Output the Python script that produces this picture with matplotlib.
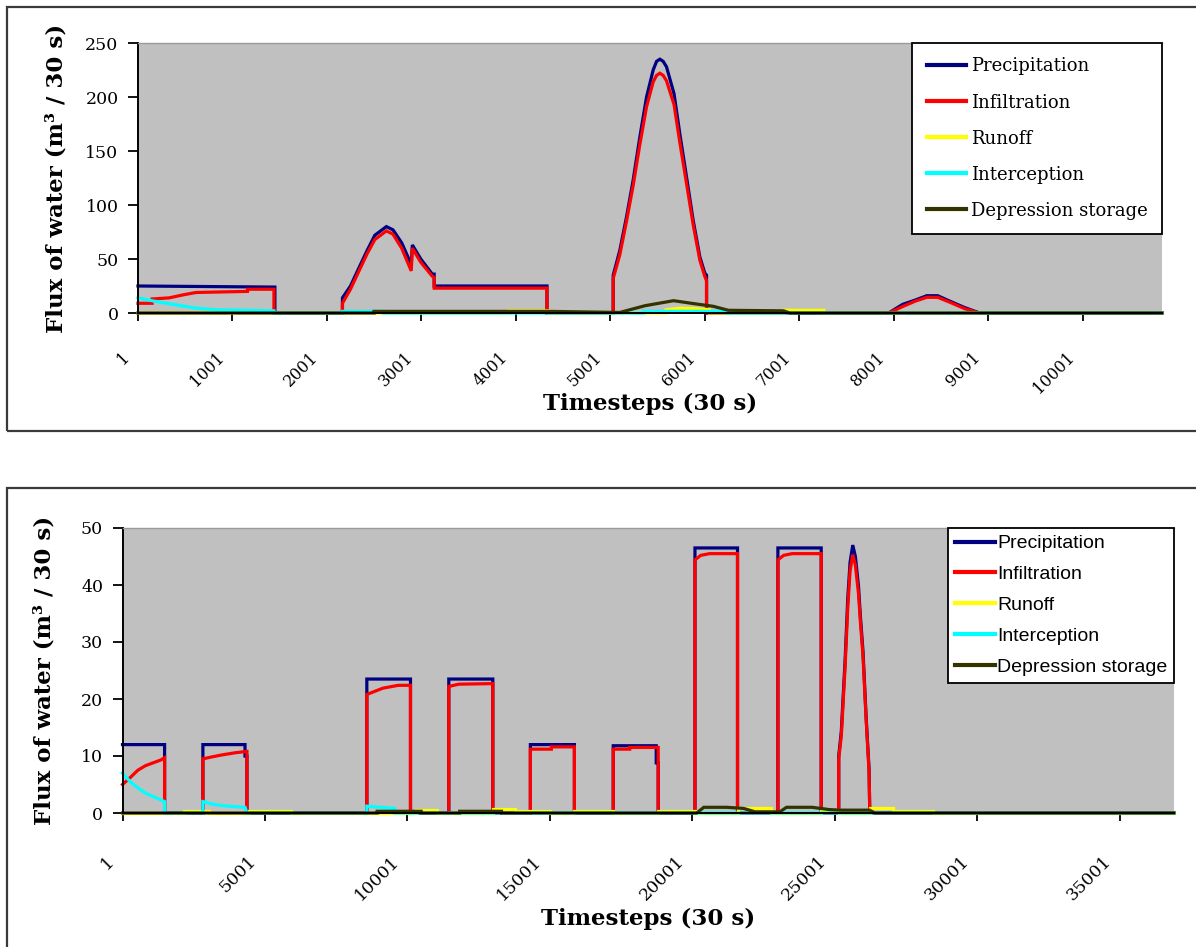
import matplotlib
matplotlib.use("Agg")
import matplotlib.pyplot as plt
import matplotlib.transforms as mtransforms
from matplotlib.patches import Rectangle

# ---------------- data: top panel (timesteps 1..10840) ----------------
top_xmax = 10840
top_xticks = [1, 1001, 2001, 3001, 4001, 5001, 6001, 7001, 8001, 9001, 10001]
top_yticks = [0, 50, 100, 150, 200, 250]

top_t_precip = [1, 1450, 1450, 2165, 2165, 2250, 2346, 2427, 2508, 2630, 2700, 2792, 2893, 2905,
                2994, 3116, 3136, 3136, 4330, 4330, 5031, 5031, 5101, 5172, 5242, 5313, 5384,
                5454, 5490, 5525, 5560, 5595, 5675, 5736, 5807, 5877, 5948, 6000, 6019, 6019,
                7947, 8095, 8229, 8350, 8466, 8593, 8752, 8910, 10840]
top_v_precip = [25, 24, 0, 0, 14, 25, 43, 58, 72, 80, 77, 65, 45, 63,
                50, 36, 36, 25, 25, 0, 0, 35, 58, 89, 123, 163, 200,
                225, 233, 235, 233, 228, 203, 166, 126, 86, 52, 37, 35, 0,
                0, 8, 12, 16, 16, 11, 5, 0, 0]

top_t_infil = [1, 150, 150, 330, 490, 615, 1160, 1160, 1440, 1440, 2165, 2165, 2250, 2346, 2427,
               2508, 2630, 2700, 2792, 2893, 2905, 2994, 3116, 3136, 3136, 4330, 4330, 5031, 5031,
               5101, 5172, 5242, 5313, 5384, 5454, 5490, 5525, 5560, 5595, 5675, 5736, 5807, 5877,
               5948, 6000, 6019, 6019, 7947, 8095, 8229, 8350, 8466, 8593, 8752, 8910, 10840]
top_v_infil = [9, 9, 13, 14, 17, 19, 20, 22, 22, 0, 0, 9, 22, 40, 55,
               68, 76, 73, 60, 39, 60, 47, 34, 33, 23, 23, 0, 0, 32,
               54, 85, 118, 156, 191, 214, 220, 222, 220, 215, 193, 158, 120, 82,
               49, 34, 30, 0, 0, 6, 11, 14.5, 14.5, 10, 4, 0, 0]

top_t_runoff = [1, 3925, 3925, 4350, 4350, 5590, 5590, 5750, 5900, 6050, 6050, 6835, 6835, 7260, 7260, 10840]
top_v_runoff = [0, 0, 2, 2, 0, 0, 3, 4.5, 4, 3, 0, 0, 2.5, 2.5, 0, 0]

top_t_interc = [1, 170, 370, 615, 820, 1440, 1440, 2165, 2165, 2600, 2600, 5350, 5350, 6235, 6235, 10840]
top_v_interc = [14, 11, 8, 4.5, 3, 2, 0, 0, 1.5, 1.5, 0, 0, 1.5, 1.5, 0, 0]

top_t_depr = [1, 2500, 2500, 4350, 5100, 5370, 5670, 5890, 6090, 6250, 6835, 6900, 10840]
top_v_depr = [0, 0, 1.5, 1.5, 0.5, 6.8, 11.4, 8.6, 6.2, 2.5, 2, 0, 0]

# ---------------- data: bottom panel (timesteps 1..36900) ----------------
bot_xmax = 36900
bot_xticks = [1, 5001, 10001, 15001, 20001, 25001, 30001, 35001]
bot_yticks = [0, 10, 20, 30, 40, 50]

bot_t_precip = [1, 1478, 1478, 2822, 2822, 4300, 4300, 4368, 4368, 8575, 8575, 10107, 10107,
                11451, 11451, 12996, 12996, 14314, 14314, 15859, 15859, 17222, 17222, 18730,
                18730, 18800, 18800, 20090, 20090, 21583, 21583, 23000, 23000, 24520, 24520,
                25134, 25134, 25225, 25291, 25357, 25452, 25533, 25627, 25719, 25828, 25895,
                25986, 26095, 26200, 26224, 36900]
bot_v_precip = [12, 12, 0, 0, 12, 12, 10, 10, 0, 0, 23.5, 23.5, 0,
                0, 23.5, 23.5, 0, 0, 12, 12, 0, 0, 11.8, 11.8,
                8.8, 8.8, 0, 0, 46.5, 46.5, 0, 0, 46.5, 46.5, 0,
                0, 10, 14.3, 20.5, 26.6, 37.7, 44, 47, 45, 39.8, 34.5,
                28.4, 17, 7.6, 0, 0]

bot_t_infil = [1, 269, 538, 806, 1075, 1344, 1478, 1478, 2822, 2822, 3100, 3500, 4000, 4368, 4368,
               8575, 8575, 9139, 9677, 10107, 10107, 11451, 11451, 11800, 12996, 12996,
               14314, 14314, 15050, 15050, 15859, 15859, 17222, 17222, 17800, 17800, 18800, 18800,
               20090, 20090, 20290, 20600, 21583, 21583, 23000, 23000, 23200, 23500, 24520, 24520,
               25134, 25134, 25225, 25291, 25357, 25452, 25533, 25627, 25719, 25828, 25895,
               25986, 26095, 26200, 26224, 36900]
bot_v_infil = [5, 6.2, 7.5, 8.3, 8.8, 9.3, 9.7, 0, 0, 9.5, 9.8, 10.2, 10.6, 10.8, 0,
               0, 20.8, 21.9, 22.4, 22.4, 0, 0, 22.2, 22.6, 22.7, 0,
               0, 11.2, 11.2, 11.6, 11.6, 0, 0, 11.2, 11.2, 11.5, 11.5, 0,
               0, 44.4, 45.2, 45.5, 45.5, 0, 0, 44.4, 45.2, 45.5, 45.5, 0,
               0, 9.5, 13.5, 19.5, 25.5, 36, 42.5, 45.3, 43.5, 38.5, 33.5,
               27.5, 16.5, 7.2, 0, 0]

bot_t_runoff = [1, 2150, 2150, 3025, 3025, 4435, 4435, 5914, 5914, 10300, 10300, 11020, 11020,
                13000, 13000, 13780, 13780, 15000, 15000, 15859, 15859, 17222, 17222, 18800,
                18800, 20090, 20090, 21583, 21583, 22750, 22750, 24520, 24520, 25134, 25134,
                26224, 26224, 27030, 27030, 28430, 28430, 36900]
bot_v_runoff = [0, 0, 0.3, 0.3, 0, 0, 0.3, 0.3, 0, 0, 0.6, 0.6, 0,
                0, 0.7, 0.7, 0.3, 0.3, 0, 0, 0.3, 0.3, 0, 0,
                0.3, 0.3, 0, 0, 0.8, 0.8, 0, 0, 0.6, 0.6, 0,
                0, 0.8, 0.8, 0.4, 0.4, 0, 0]

bot_t_interc = [1, 269, 538, 806, 1075, 1344, 1478, 1478, 2822, 2822, 3200, 3700, 4300, 4368,
                8575, 8575, 9550, 9550, 36900]
bot_v_interc = [7, 5.5, 4.4, 3.5, 2.9, 2.3, 2, 0, 0, 2, 1.5, 1.2, 1, 0,
                0, 1.2, 0.8, 0, 0]

bot_t_depr = [1, 8940, 8940, 10480, 10480, 11830, 11830, 13300, 13300, 20150, 20400, 21200, 21800,
              22200, 23070, 23300, 24200, 24800, 25200, 26220, 26400, 36900]
bot_v_depr = [0, 0, 0.3, 0.3, 0, 0, 0.3, 0.3, 0, 0, 1.0, 1.0, 0.8,
              0.2, 0.2, 1.0, 1.0, 0.6, 0.5, 0.5, 0, 0]

series_names = ["Precipitation", "Infiltration", "Runoff", "Interception", "Depression storage"]
series_colors = ["#000080", "#FF0000", "#FFFF00", "#00FFFF", "#333300"]

ylabel_text = "Flux of water (m\u00b3 / 30 s)"
xlabel_text = "Timesteps (30 s)"

# ---------------- figure ----------------
W, H = 1196, 947
fig = plt.figure(figsize=(W / 100, H / 100), dpi=100)
fig.patch.set_facecolor("white")


def px_rect(x0, y0, x1, y1):
    return [x0 / W, 1 - y1 / H, (x1 - x0) / W, (y1 - y0) / H]


# outer frames
fig.patches.append(Rectangle((7 / W, 1 - 431 / H), 1.2, (431 - 7) / H, transform=fig.transFigure,
                             fill=False, edgecolor="#3a3a3a", linewidth=1.6, clip_on=False))
fig.patches.append(Rectangle((7 / W, -0.2), 1.2, 0.2 + (1 - 488 / H), transform=fig.transFigure,
                             fill=False, edgecolor="#3a3a3a", linewidth=1.6, clip_on=False))

ax1 = fig.add_axes(px_rect(138, 43, 1162, 313))
ax2 = fig.add_axes(px_rect(122.5, 528, 1174, 813))

serif = "DejaVu Serif"
panels = [
    (ax1, top_xmax, top_xticks, top_yticks, 250, 11.5, 24, 6,
     [(top_t_precip, top_v_precip), (top_t_infil, top_v_infil), (top_t_runoff, top_v_runoff),
      (top_t_interc, top_v_interc), (top_t_depr, top_v_depr)]),
    (ax2, bot_xmax, bot_xticks, bot_yticks, 50, 12.5, 27, 6,
     [(bot_t_precip, bot_v_precip), (bot_t_infil, bot_v_infil), (bot_t_runoff, bot_v_runoff),
      (bot_t_interc, bot_v_interc), (bot_t_depr, bot_v_depr)]),
]

for ax, xmax, xticks, yticks, ymax, xfs, xpad, tlen, data in panels:
    ax.set_facecolor("#C0C0C0")
    for (t, v), name, col in zip(data, series_names, series_colors):
        ax.plot(t, v, color=col, lw=2.3, label=name, solid_joinstyle="miter", clip_on=False)
    ax.set_xlim(1, xmax)
    ax.set_ylim(0, ymax)
    ax.set_xticks(xticks)
    ax.set_xticklabels([str(x) for x in xticks], rotation=45, ha="right", va="center",
                       rotation_mode="anchor", fontfamily=serif, fontsize=xfs)
    ax.set_yticks(yticks)
    ax.set_yticklabels([str(y) for y in yticks], fontfamily=serif, fontsize=12.5)
    ax.tick_params(axis="x", direction="out", length=tlen, width=1.3, pad=xpad, color="black")
    ax.tick_params(axis="y", direction="out", length=7, width=1.3, pad=7, color="black")
    offset = mtransforms.ScaledTranslation(-11 / 100, 0, fig.dpi_scale_trans)
    for lab in ax.get_xticklabels():
        lab.set_transform(lab.get_transform() + offset)
    for s in ["left", "bottom"]:
        ax.spines[s].set_color("black")
        ax.spines[s].set_linewidth(1.4)
    ax.spines["top"].set_color("#9a9a9a")
    ax.spines["top"].set_linewidth(1.0)
    ax.spines["right"].set_visible(False)

# axis titles
ax1.set_xlabel(xlabel_text, fontfamily=serif, fontweight="bold", fontsize=16.5, labelpad=-3)
ax2.set_xlabel(xlabel_text, fontfamily=serif, fontweight="bold", fontsize=16.5, labelpad=3)
ax1.set_ylabel(ylabel_text, fontfamily=serif, fontweight="bold", fontsize=16.5, labelpad=13)
ax2.set_ylabel(ylabel_text, fontfamily=serif, fontweight="bold", fontsize=16.5, labelpad=18)

# legends
leg1 = ax1.legend(loc="upper right", bbox_to_anchor=(1.0, 1.0), frameon=True, fancybox=False,
                  edgecolor="black", facecolor="white", framealpha=1,
                  prop={"family": serif, "size": 13}, handlelength=2.15, handletextpad=0.28,
                  labelspacing=1.0, borderpad=0.8, borderaxespad=0)
leg1.get_frame().set_linewidth(1.3)
leg2 = ax2.legend(loc="upper right", bbox_to_anchor=(1.0, 1.0), frameon=True, fancybox=False,
                  edgecolor="black", facecolor="white", framealpha=1,
                  prop={"family": "Liberation Sans", "size": 14}, handlelength=2.05,
                  handletextpad=0.1, labelspacing=0.68, borderpad=0.35, borderaxespad=0)
leg2.get_frame().set_linewidth(1.3)
for leg in (leg1, leg2):
    for h in leg.get_lines():
        h.set_linewidth(3)

fig.savefig("out.png", dpi=100, facecolor="white")
